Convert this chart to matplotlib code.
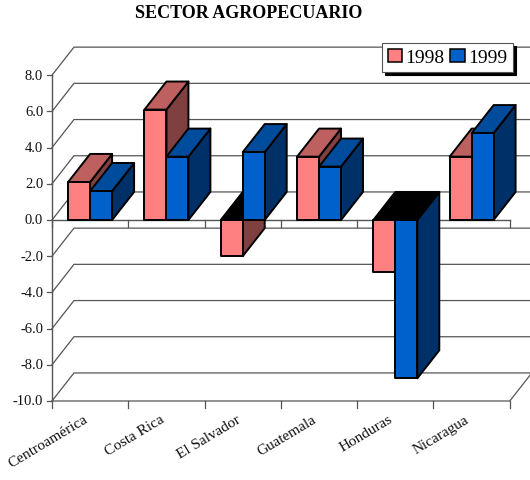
import matplotlib
matplotlib.use('agg')
import matplotlib.pyplot as plt
from matplotlib.patches import Polygon, Patch

categories = ['Centroamérica', 'Costa Rica', 'El Salvador', 'Guatemala', 'Honduras', 'Nicaragua']
values_1998 = [2.1, 6.1, -2.0, 3.5, -2.9, 3.5]
values_1999 = [1.6, 3.5, 3.75, 2.95, -8.75, 4.8]
y_ticks = [8, 6, 4, 2, 0, -2, -4, -6, -8, -10]

plt.rcParams['font.family'] = ['Liberation Serif', 'DejaVu Serif']

# depth of the fake 3d box, in data units
DX = 0.288
DY = 1.55
BAR_W = 0.288
GAP = 0.212
GRID = '#555555'

fig = plt.figure(figsize=(5.30, 4.81), dpi=100)
ax = fig.add_axes([0, 0, 1, 1])
ax.set_xlim(-52 / 76.3, 478 / 76.3)
ax.set_ylim(-260 / 18.1, 221 / 18.1)
ax.axis('off')


def draw_bar(x, v, front, top, side, z):
    # side and top first, then the front on top of them
    ax.add_patch(Polygon([(x + BAR_W, 0), (x + BAR_W + DX, DY), (x + BAR_W + DX, v + DY), (x + BAR_W, v)],
                         closed=True, fc=side, ec='black', lw=1.4, joinstyle='round', zorder=z))
    top_y = max(v, 0)
    top_c = top if v > 0 else 'black'
    ax.add_patch(Polygon([(x, top_y), (x + DX, top_y + DY), (x + BAR_W + DX, top_y + DY), (x + BAR_W, top_y)],
                         closed=True, fc=top_c, ec='black', lw=1.4, joinstyle='round', zorder=z))
    ax.add_patch(Polygon([(x, 0), (x, v), (x + BAR_W, v), (x + BAR_W, 0)],
                         closed=True, fc=front, ec='black', lw=1.4, joinstyle='round', zorder=z))


n = len(categories)

# back wall and left wall grid
for t in y_ticks:
    ax.plot([0, DX, n + DX], [t, t + DY, t + DY], color=GRID, lw=0.9, zorder=1, solid_joinstyle='miter')
    ax.plot([-0.07, 0], [t, t], color=GRID, lw=0.9, zorder=1)
    ax.text(-0.115, t, '%.1f' % t, ha='right', va='center', fontsize=10.5, color='#111111')

# axis lines
ax.plot([0, 0], [y_ticks[-1], y_ticks[0]], color=GRID, lw=1.0, zorder=1)
ax.plot([0, n], [0, 0], color=GRID, lw=1.0, zorder=1)
ax.plot([0, n, n + DX], [-10, -10, -10 + DY], color=GRID, lw=0.9, zorder=1)
for i in range(n + 1):
    ax.plot([i, i], [0, -0.38], color=GRID, lw=0.9, zorder=1)
    ax.plot([i, i], [-10, -10.38], color=GRID, lw=0.9, zorder=1)

z = 2
for i in range(n):
    draw_bar(i + GAP, values_1998[i], '#FF8080', '#BF6060', '#804040', z)
    draw_bar(i + GAP + BAR_W, values_1999[i], '#0060CC', '#004C9C', '#003068', z + 1)
    z += 2

for i, name in enumerate(categories):
    ax.text(i + 0.41, -10.62, name, rotation=31, rotation_mode='anchor', ha='right', va='top',
            fontsize=11, color='#111111')

handles = [Patch(fc='#FF8080', ec='black', lw=1.1), Patch(fc='#0060CC', ec='black', lw=1.1)]
leg = ax.legend(handles, ['1998', '1999'], ncols=2, loc='upper left',
                bbox_to_anchor=(382 / 530, 1 - 44 / 481), bbox_transform=fig.transFigure,
                borderaxespad=0, fancybox=False, edgecolor=GRID, framealpha=1,
                shadow={'color': 'black', 'alpha': 1}, fontsize=14,
                handlelength=0.75, handleheight=0.7, handletextpad=0.15, columnspacing=0.3,
                borderpad=0.3)
leg.get_frame().set_linewidth(0.8)
leg.set_zorder(50)

fig.text(249 / 530, 1 - 13 / 481, 'SECTOR AGROPECUARIO', ha='center', va='center',
         fontsize=13, fontweight='bold', color='black')

fig.savefig('out.png', dpi=100)
